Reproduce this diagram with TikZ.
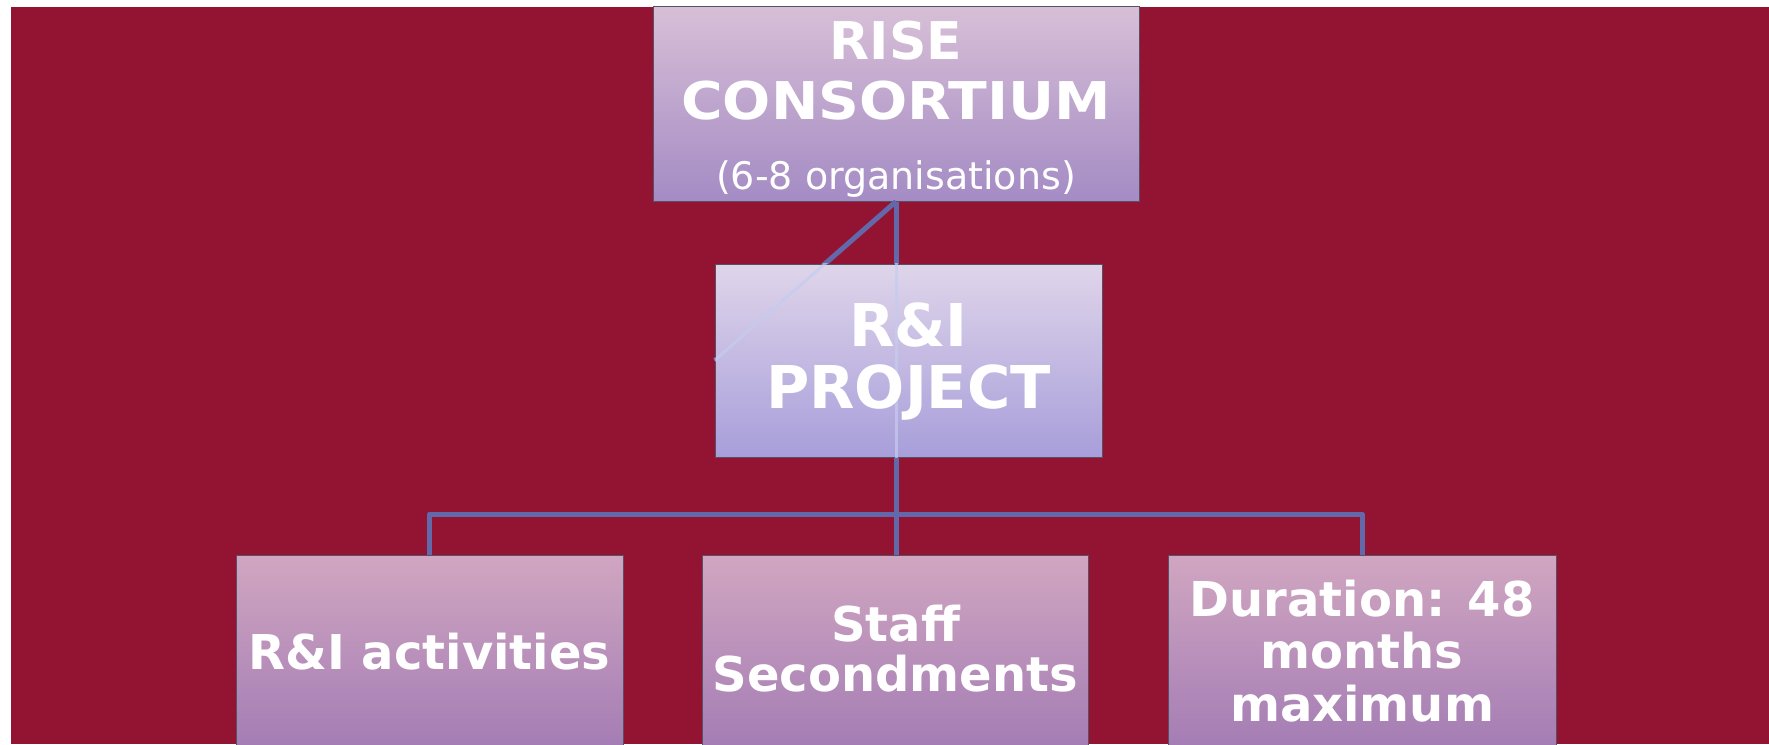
\documentclass[tikz,border=0pt]{standalone}
\usepackage{graphicx}
\usepackage{fontspec}
\setmainfont{DejaVu Sans}
\definecolor{bgred}{RGB}{147,20,50}
\definecolor{conncol}{RGB}{99,104,170}
\definecolor{innerline}{RGB}{196,204,238}
\definecolor{topA}{RGB}{216,191,215}
\definecolor{topB}{RGB}{164,139,196}
\definecolor{midA}{RGB}{223,213,234}
\definecolor{midB}{RGB}{168,158,218}
\definecolor{lowA}{RGB}{209,166,193}
\definecolor{lowB}{RGB}{163,124,180}
\definecolor{edgecol}{RGB}{90,80,100}
\begin{document}
\begin{tikzpicture}[x=1pt,y=-1pt,
  box/.style={draw=edgecol, line width=1pt, rectangle, inner sep=0pt},
  boxtext/.style={align=center, text=white, inner sep=0pt, font=\bfseries},
  conn/.style={draw=conncol, line width=5pt},
  connlight/.style={draw=innerline, line width=3pt, opacity=0.7}]
\useasboundingbox (0,0) rectangle (1769,744);
\fill[bgred] (11,7) rectangle (1769,744);
% consortium box
\node[box, minimum width=486pt, minimum height=195pt, top color=topA, bottom color=topB] (con) at (896,103.5) {};
\node[boxtext, font=\bfseries\fontsize{52}{60}\selectfont] (context) at ([yshift=-6pt]con.center)
  {RISE\\\scalebox{1.09}[1]{CONSORTIUM}\\[10pt]{\fontsize{38}{40}\selectfont\mdseries (6-8 organisations)}};
% hidden shapes used to place connectors below the project box
\node[minimum width=387pt, minimum height=193pt, inner sep=0pt] (projshape) at (908.5,360.5) {};
\node[minimum width=387pt, minimum height=195pt, inner sep=0pt] (secshape) at (895.5,652.5) {};
\draw[conn] (con.south) -- (projshape.west);
\draw[conn] (con.south) -- (con.south |- secshape.north);
% project box
\node[box, minimum width=387pt, minimum height=193pt, top color=midA, bottom color=midB] (proj) at (908.5,360.5) {};
\begin{scope}
  \clip (proj.south west) rectangle (proj.north east);
  \draw[connlight] (con.south) -- (proj.west);
  \draw[connlight] (con.south) -- (con.south |- secshape.north);
\end{scope}
\node[boxtext, font=\bfseries\fontsize{59}{62}\selectfont] (projtext) at ([yshift=-1pt]proj.center) {R\&I\\PROJECT};
% bottom boxes
\node[box, minimum width=387pt, minimum height=195pt, top color=lowA, bottom color=lowB] (act) at (429.5,652.5) {};
\node[box, minimum width=386pt, minimum height=195pt, top color=lowA, bottom color=lowB] (sec) at (895.5,652.5) {};
\node[box, minimum width=388pt, minimum height=195pt, top color=lowA, bottom color=lowB] (dur) at (1362,652.5) {};
\node[boxtext, font=\bfseries\fontsize{48}{52}\selectfont] (acttext) at ([yshift=1pt]act.center) {R\&I activities};
\node[boxtext, font=\bfseries\fontsize{48}{50}\selectfont] (sectext) at ([yshift=4pt]sec.center) {Staff\\Secondments};
\node[boxtext, font=\bfseries\fontsize{48}{52.5}\selectfont] (durtext) at ([yshift=1.5pt]dur.center) {Duration: 48\\months\\maximum};
% bus
\coordinate (busL) at (act.north |- 0,514);
\coordinate (busR) at (dur.north |- 0,514);
\draw[conn, line join=round] (act.north) -- (busL) -- (busR) -- (dur.north);
\end{tikzpicture}
\end{document}
